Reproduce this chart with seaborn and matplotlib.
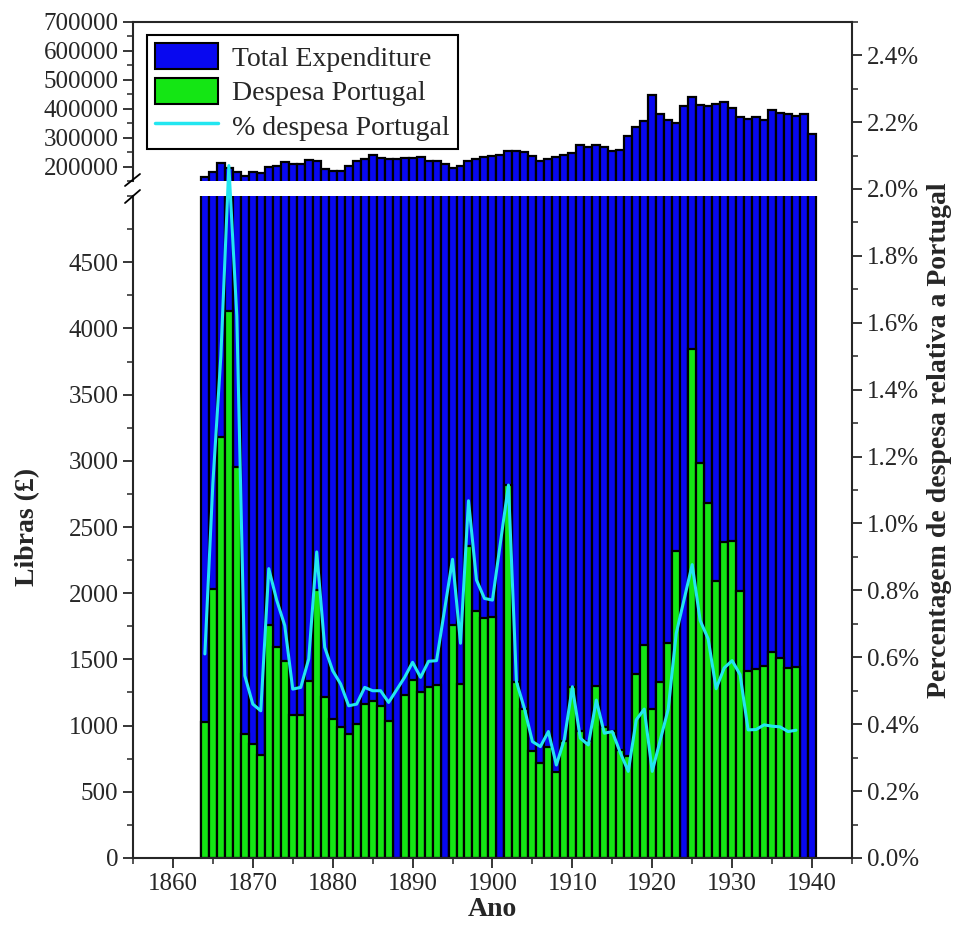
import pandas as pd
import matplotlib
matplotlib.use("Agg")
import matplotlib.pyplot as plt
import seaborn as sns
from matplotlib.patches import Patch
from matplotlib.lines import Line2D
from matplotlib.ticker import MultipleLocator, FuncFormatter

# anos 1864-1940 (despesa Portugal so ate 1938)
years = list(range(1864, 1941))

total = [163000, 180300, 212700, 195400, 180300, 168800, 182600, 178000, 200000, 203500,
         213900, 209300, 209300, 223100, 220800, 191900, 183800, 183800, 203500, 218500,
         226600, 238200, 230100, 226600, 226600, 227800, 230100, 232400, 220800, 217400,
         209300, 195400, 203500, 220800, 224300, 232400, 234700, 239400, 252100, 253200,
         250900, 234700, 220800, 225500, 233600, 240500, 247500, 272900, 267100, 272900,
         267100, 253200, 255600, 305300, 336600, 357400, 446500, 380600, 359700, 351600,
         409500, 438400, 414100, 409500, 415300, 422200, 403700, 371300, 365500, 371300,
         362000, 394400, 386300, 382900, 373600, 380600, 311100]

portugal = [1026, 2035, 3178, 4135, 2951, 936, 858, 777, 1761, 1594,
            1489, 1080, 1080, 1337, 2024, 1217, 1052, 987, 936, 1010,
            1163, 1187, 1151, 1031, None, 1234, 1345, 1254, 1294, 1307,
            None, 1760, 1314, 2359, 1868, 1810, 1818, None, 2818, 1330,
            1125, 811, 720, 841, 652, 881, 1290, 962, 886, 1302,
            990, 956, 815, 768, 1391, 1607, 1125, 1333, 1625, 2315,
            None, 3841, 2982, 2682, 2094, 2385, 2398, 2016, 1411, 1427,
            1450, 1555, 1513, 1437, 1443]

pct = [0.61, 1.12, 1.50, 2.07, 1.62, 0.545, 0.46, 0.44, 0.865, 0.77,
       0.695, 0.505, 0.51, 0.595, 0.915, 0.63, 0.56, 0.52, 0.455, 0.46,
       0.51, 0.50, 0.50, 0.465, None, 0.54, 0.585, 0.54, 0.588, 0.59,
       None, 0.893, 0.642, 1.068, 0.831, 0.776, 0.771, None, 1.115, 0.527,
       0.447, 0.348, 0.333, 0.378, 0.278, 0.355, 0.512, 0.358, 0.338, 0.472,
       0.373, 0.378, 0.315, 0.259, 0.413, 0.445, 0.259, 0.352, 0.445, 0.671,
       None, 0.877, 0.710, 0.655, 0.506, 0.568, 0.590, 0.548, 0.383, 0.384,
       0.398, 0.394, 0.392, 0.378, 0.382]

BLUE = '#0808F0'
GREEN = '#14E614'
CYAN = '#22E6F0'

df = pd.DataFrame({'Ano': years, 'Total': total})
dp = pd.DataFrame({'Ano': years[:len(portugal)], 'Portugal': portugal, 'Pct': pct}).dropna()

sns.set_style("ticks")
plt.rcParams['font.family'] = ['Liberation Serif', 'DejaVu Serif']
plt.rcParams['axes.linewidth'] = 1.5

fig = plt.figure(figsize=(9.58, 9.33), dpi=100)
L, W = 0.1388, 0.7505
ax_top = fig.add_axes([L, 0.806, W, 0.1707])
ax_bot = fig.add_axes([L, 0.0804, W, 0.7095])
ax_pct = fig.add_axes([L, 0.0804, W, 0.8963])

bar_kw = dict(native_scale=True, width=1.0, saturation=1, edgecolor='black',
              linewidth=1.6, errorbar=None)
for ax in (ax_top, ax_bot):
    sns.barplot(data=df, x='Ano', y='Total', color=BLUE, ax=ax, **bar_kw)
    sns.barplot(data=dp, x='Ano', y='Portugal', color=GREEN, ax=ax, **bar_kw)
    ax.set_xlim(1855, 1945)
    ax.set_xlabel('')
    ax.set_ylabel('')
    ax.spines['right'].set_visible(False)

sns.lineplot(data=dp, x='Ano', y='Pct', color=CYAN, linewidth=2.2, ax=ax_pct)
ax_pct.set_xlim(1855, 1945)
ax_pct.set_ylim(0, 2.5)
ax_pct.patch.set_alpha(0)
for s in ('left', 'top', 'bottom'):
    ax_pct.spines[s].set_visible(False)
ax_pct.yaxis.tick_right()
ax_pct.yaxis.set_label_position('right')
ax_pct.tick_params(axis='x', bottom=False, labelbottom=False)
ax_pct.set_xlabel('')
ax_pct.set_yticks([i * 0.2 for i in range(13)])
ax_pct.yaxis.set_minor_locator(MultipleLocator(0.1))
ax_pct.yaxis.set_major_formatter(FuncFormatter(lambda v, p: f'{v:.1f}%'))
ax_pct.set_ylabel('Percentagem de despesa relativa a Portugal', fontsize=20,
                  fontweight='bold', labelpad=6)

# secção de cima (total)
ax_top.set_ylim(150000, 700000)
ax_top.set_yticks(range(200000, 700001, 100000))
ax_top.yaxis.set_minor_locator(MultipleLocator(50000))
ax_top.yaxis.set_major_formatter(FuncFormatter(lambda v, p: f'{int(v)}'))
ax_top.spines['bottom'].set_visible(False)
ax_top.tick_params(axis='x', which='both', bottom=False, labelbottom=False)

# secção de baixo
ax_bot.set_ylim(0, 5000)
ax_bot.set_yticks(range(0, 4501, 500))
ax_bot.yaxis.set_minor_locator(MultipleLocator(250))
ax_bot.spines['top'].set_visible(False)
ax_bot.set_xticks(range(1860, 1941, 10))
ax_bot.xaxis.set_minor_locator(MultipleLocator(5))
ax_bot.set_xlabel('Ano', fontsize=20, fontweight='bold', labelpad=2)
ax_bot.set_ylabel('Libras (£)', fontsize=20, fontweight='bold', labelpad=20)

for ax in (ax_top, ax_bot, ax_pct):
    ax.tick_params(which='major', direction='out', length=7, width=1.3, labelsize=18)
    ax.tick_params(which='minor', direction='out', length=4, width=1.1)

# marcas de quebra no eixo
for y0, y1 in ((186, 174), (203, 190)):
    fig.add_artist(Line2D([125 / 958, 140 / 958], [1 - y0 / 933, 1 - y1 / 933],
                          transform=fig.transFigure, color='black', linewidth=1.3))

handles = [Patch(facecolor=BLUE, edgecolor='black', linewidth=1.5, label='Total Expenditure'),
           Patch(facecolor=GREEN, edgecolor='black', linewidth=1.5, label='Despesa Portugal'),
           Line2D([], [], color=CYAN, linewidth=2.5, label='% despesa Portugal')]
leg = fig.legend(handles=handles, loc='upper left', bbox_to_anchor=(0.1535, 0.9625),
                 fontsize=20, frameon=True, fancybox=False, edgecolor='black', framealpha=1,
                 borderpad=0.3, labelspacing=0.22, handlelength=2.25, handleheight=1.05,
                 handletextpad=0.5, borderaxespad=0)
leg.get_frame().set_linewidth(1.5)

fig.savefig('out.png', dpi=100)
